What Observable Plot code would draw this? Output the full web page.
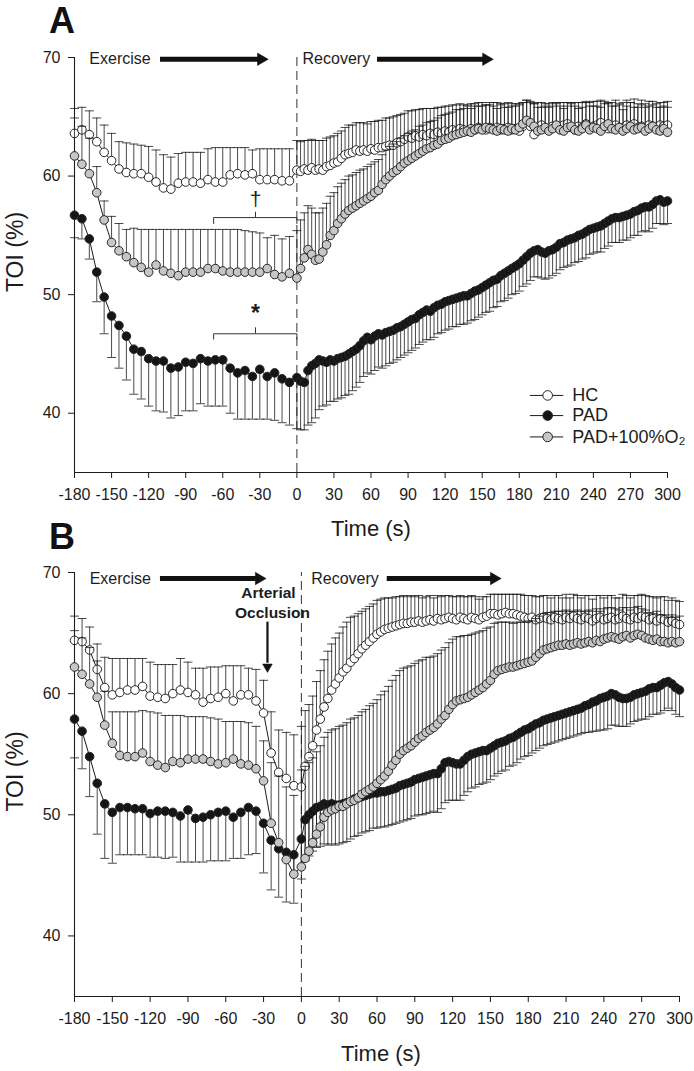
<!DOCTYPE html>
<html><head><meta charset="utf-8">
<script src="https://cdn.jsdelivr.net/npm/d3@7"></script>
<script src="https://cdn.jsdelivr.net/npm/@observablehq/plot@0.6"></script>
<style>
body{margin:0;background:#fff;}
#wrap{position:relative;width:694px;height:1071px;overflow:hidden;background:#fff;}
.panel{position:absolute;left:0;}
</style></head><body>
<div id="wrap"><div id="pa" class="panel" style="top:0px"></div><div id="pb" class="panel" style="top:515px"></div></div>
<script>
// ---------- sampling times ----------
const exTimes = d3.range(-180, 0, 6);     // exercise samples (every 6 s)
const recTimes = d3.range(0, 301, 3);     // recovery samples (every 3 s)
const xTicks = d3.range(-180, 301, 30);
const yTicks = [40, 50, 60, 70];
const seriesNames = ["HC", "PAD", "PAD+100%O₂"];

// ---------- Panel A : means and SD ----------
const A_HC_ex = [63.6,63.9,63.5,62.9,62.0,61.3,60.6,60.3,60.2,60.2,59.9,59.5,59.0,58.9,59.4,59.5,59.5,59.4,59.7,59.5,59.5,60.1,60.2,60.1,60.2,59.7,59.7,59.7,59.6,59.6];
const A_HC_ex_sd = [2.1,1.9,2.0,2.0,2.3,2.3,2.3,2.5,2.5,2.4,2.6,2.7,2.8,2.7,2.5,2.5,2.5,2.6,2.6,2.9,2.9,2.3,2.2,2.3,2.0,2.6,2.6,2.6,2.7,2.7];
const A_PAD_ex = [56.7,56.4,54.7,51.9,49.8,48.2,47.4,46.5,45.4,45.2,44.6,44.4,44.4,43.8,43.9,44.3,44.2,44.6,44.4,44.5,44.5,43.8,43.4,43.6,43.1,43.7,43.1,43.4,42.9,42.6];
const A_PAD_ex_sd = [1.9,1.7,1.7,2.5,3.1,3.5,3.6,3.7,3.8,4.0,4.0,4.2,4.3,4.2,4.1,4.1,4.0,3.8,3.8,3.9,3.9,3.8,3.9,4.1,3.6,4.2,3.6,4.0,3.7,3.6];
const A_O2_ex = [61.7,61.0,60.2,58.6,56.3,54.4,53.7,53.2,52.7,52.3,51.9,52.5,52.0,51.8,51.6,51.9,51.9,51.9,52.2,52.2,52.0,51.9,51.9,51.9,51.9,51.9,52.2,51.7,51.5,51.8];
const A_O2_ex_sd = [3.2,3.2,3.0,2.2,1.6,2.2,2.3,2.3,2.9,3.2,3.6,3.0,3.5,3.7,3.9,3.6,3.6,3.6,3.3,3.3,3.5,3.6,3.6,3.5,3.4,3.3,2.6,3.3,3.2,3.1];

const A_HC_rec = [
60.5,60.4,60.6,60.5,60.7,60.5,60.6,60.5,60.8,60.9,
61.1,61.2,61.5,61.8,61.9,62.0,62.2,62.1,62.2,62.1,
62.3,62.2,62.4,62.4,62.5,62.6,62.6,62.8,62.9,63.1,
63.3,63.2,63.4,63.3,63.5,63.4,63.6,63.5,63.7,63.6,
63.8,63.7,63.9,63.8,64.0,63.9,63.8,64.0,63.9,64.1,
64.0,63.9,64.1,64.0,64.1,63.9,64.0,64.1,63.9,64.0,
63.8,64.2,64.6,64.2,63.5,64.1,64.3,64.0,63.9,64.2,
64.1,64.0,64.3,64.4,64.1,63.9,64.2,64.1,64.4,64.0,
64.2,64.3,64.5,64.1,64.0,64.2,64.3,64.1,64.0,64.3,
64.2,64.4,64.1,64.2,64.0,64.3,64.2,64.1,64.3,64.2,
64.3];
const A_HC_rec_sd = [
2.5,2.5,2.4,2.5,2.4,2.5,2.4,2.5,2.4,2.4,
2.3,2.4,2.3,2.3,2.4,2.3,2.3,2.4,2.3,2.3,
2.3,2.4,2.3,2.3,2.4,2.3,2.4,2.3,2.3,2.2,
2.2,2.3,2.2,2.3,2.2,2.3,2.1,2.2,2.1,2.2,
2.1,2.2,2.1,2.2,2.1,2.1,2.2,2.1,2.2,2.1,
2.2,2.1,2.1,2.2,2.1,2.2,2.1,2.1,2.2,2.1,
2.3,2.0,1.8,2.0,2.6,2.1,1.9,2.1,2.2,2.0,
2.1,2.2,1.9,1.8,2.1,2.3,2.0,2.1,1.9,2.2,
2.1,2.0,1.9,2.2,2.1,2.0,2.1,2.0,2.2,2.1,
2.0,2.1,2.0,2.2,2.1,2.0,2.1,2.0,1.9,2.0,
2.0];
const A_O2_rec = [
51.4,52.2,53.1,53.8,53.4,52.9,53.0,53.6,54.2,55.0,
55.4,56.0,56.4,56.8,57.1,57.3,57.5,57.7,57.9,58.1,
58.3,58.6,58.8,59.3,59.7,60.0,60.3,60.5,60.8,61.1,
61.3,61.5,61.7,61.9,62.1,62.3,62.4,62.6,62.7,63.0,
63.1,63.2,63.4,63.5,63.6,63.7,63.8,63.7,63.9,64.0,
63.9,64.1,64.0,63.9,63.8,64.0,63.9,63.8,64.0,63.9,
64.1,64.4,64.7,64.5,64.2,63.8,63.9,64.1,63.8,64.0,
64.3,63.9,63.8,64.1,64.2,63.9,63.8,64.0,64.3,63.9,
64.1,64.0,63.8,64.2,64.4,64.0,63.9,64.1,63.8,64.0,
64.2,63.9,64.0,64.1,63.8,64.0,64.2,63.9,63.8,64.0,
63.7];
const A_O2_rec_sd = [
4.0,4.1,3.8,3.7,3.9,4.0,3.9,3.7,3.5,3.3,
3.2,3.1,3.0,2.9,2.9,2.8,2.8,2.8,2.7,2.7,
2.7,2.6,2.6,2.5,2.5,2.5,2.4,2.4,2.4,2.3,
2.3,2.3,2.2,2.3,2.2,2.2,2.2,2.1,2.2,2.1,
2.1,2.1,2.0,2.1,2.0,2.0,2.1,2.0,2.0,1.9,
2.0,1.9,2.0,2.0,1.9,2.0,1.9,2.0,1.9,2.0,
1.9,1.8,1.7,1.8,1.9,2.0,1.9,1.8,2.0,1.9,
1.8,2.0,1.9,1.8,1.9,2.0,1.9,1.8,1.9,2.0,
1.8,1.9,2.0,1.9,1.8,1.9,2.0,1.9,1.8,1.9,
2.0,1.9,1.8,1.9,2.0,1.9,1.8,1.9,2.0,1.9,
2.1];
const A_PAD_rec = [
43.0,42.7,42.6,43.6,44.0,44.2,44.5,44.4,44.3,44.5,
44.4,44.6,44.7,44.8,45.0,45.2,45.4,45.7,46.1,46.4,
46.2,46.5,46.7,46.6,46.8,46.9,47.0,47.2,47.3,47.5,
47.7,47.9,48.0,48.3,48.5,48.7,48.6,48.9,49.1,49.2,
49.4,49.5,49.6,49.7,49.8,49.9,49.9,50.1,50.3,50.4,
50.6,50.8,51.0,51.2,51.3,51.6,51.8,52.0,52.2,52.4,
52.6,52.9,53.2,53.5,53.7,53.8,53.6,53.5,53.7,53.8,
54.0,54.3,54.4,54.6,54.7,54.8,55.0,55.1,55.3,55.5,
55.6,55.7,55.8,56.0,56.2,56.4,56.5,56.5,56.6,56.7,
56.8,57.0,57.1,57.3,57.4,57.4,57.6,57.9,58.0,57.8,
57.9];
const A_PAD_rec_sd = [
4.3,4.1,4.0,4.6,4.8,4.6,4.2,3.8,3.6,3.5,
3.4,3.4,3.4,3.3,3.4,3.3,3.2,3.1,3.0,3.0,
2.9,2.9,2.8,2.8,2.8,2.7,2.7,2.7,2.6,2.6,
2.6,2.6,2.5,2.5,2.5,2.5,2.4,2.5,2.4,2.4,
2.4,2.4,2.3,2.4,2.3,2.4,2.3,2.3,2.4,2.3,
2.3,2.3,2.4,2.3,2.3,2.2,2.3,2.3,2.2,2.3,
2.3,2.2,2.3,2.3,2.2,2.3,2.2,2.2,2.3,2.2,
2.2,2.2,2.1,2.2,2.2,2.1,2.2,2.1,2.2,2.1,
2.1,2.1,2.2,2.1,2.1,2.0,2.1,2.1,2.0,2.1,
2.0,2.0,2.1,2.0,2.0,2.1,2.0,1.9,2.0,1.9,
1.9];

// ---------- Panel B : means and SD ----------
const B_HC_ex = [64.4,64.3,63.6,62.0,60.5,59.9,60.1,60.3,60.3,60.6,59.8,59.7,59.6,60.0,60.3,60.1,59.9,59.3,59.6,59.7,60.0,59.4,59.9,59.9,59.4,58.4,55.1,53.5,53.0,52.4];
const B_HC_ex_sd = [2.0,1.9,1.9,2.1,2.5,3.0,2.8,2.6,2.6,2.3,2.8,2.7,2.8,2.4,2.6,2.5,2.2,2.8,2.6,2.5,2.3,2.9,2.4,2.2,2.6,2.7,3.4,3.5,3.8,4.2];
const B_PAD_ex = [57.9,56.9,54.8,52.6,50.9,50.2,50.6,50.6,50.5,50.5,50.1,50.3,50.3,50.2,49.9,50.4,49.7,49.8,50.0,50.2,50.3,49.8,50.2,50.6,50.3,49.3,47.9,47.2,46.9,46.7];
const B_PAD_ex_sd = [3.2,3.1,3.3,4.2,4.5,4.2,3.9,3.9,3.8,3.8,3.6,3.8,3.9,3.7,3.8,4.3,3.6,3.7,3.8,4.0,4.1,3.4,3.8,3.9,3.5,4.1,4.1,4.0,4.1,4.0];
const B_O2_ex = [62.2,61.6,60.8,59.7,57.4,55.9,54.9,54.8,54.8,55.1,54.4,54.1,53.9,54.4,54.3,54.6,54.6,54.6,54.4,54.2,54.3,54.6,54.2,54.1,53.8,52.8,49.3,47.7,46.3,45.1];
const B_O2_ex_sd = [3.0,3.0,3.0,3.0,2.8,2.6,3.6,3.7,3.7,3.5,4.1,4.3,4.3,3.8,3.9,3.5,3.5,3.5,3.6,3.7,3.4,3.1,3.5,3.5,3.5,3.3,5.0,5.5,6.0,6.5];

const B_HC_rec = [
52.3,54.0,54.8,55.7,57.0,57.9,58.9,59.6,60.3,60.8,
61.3,61.8,62.1,62.6,62.9,63.3,63.7,64.0,64.3,64.6,
64.9,65.1,65.3,65.4,65.5,65.6,65.7,65.8,65.8,65.9,
65.9,66.0,65.9,66.0,66.1,66.0,66.2,66.1,66.2,66.3,
66.2,66.1,66.3,66.2,66.1,66.3,66.2,66.1,66.3,66.4,
66.6,66.6,66.5,66.6,66.7,66.6,66.6,66.5,66.4,66.3,
66.2,66.3,66.1,66.2,66.3,66.2,66.1,66.3,66.2,66.1,
66.3,66.2,66.4,66.2,66.1,66.3,66.2,66.0,66.2,66.3,
66.1,66.2,66.3,66.1,66.2,66.4,66.2,66.1,66.3,66.2,
66.4,66.3,66.1,66.2,66.0,66.2,66.1,65.9,66.0,65.8,
65.7];
const B_HC_rec_sd = [
5.0,4.6,4.3,4.1,4.0,4.0,3.9,3.9,3.8,3.8,
3.7,3.7,3.8,3.7,3.5,3.3,3.1,3.0,2.9,2.8,
2.8,2.7,2.6,2.5,2.4,2.4,2.3,2.3,2.2,2.2,
2.1,2.1,2.0,2.0,2.0,1.9,1.9,1.9,1.9,1.8,
1.8,1.9,1.8,1.8,1.9,1.8,1.8,1.7,1.7,1.6,
1.6,1.6,1.7,1.6,1.5,1.6,1.6,1.7,1.8,1.8,
1.9,1.8,1.9,1.8,1.8,1.9,1.8,1.8,1.9,1.8,
1.9,1.7,1.8,1.9,1.8,1.8,1.9,1.8,1.9,1.8,
1.8,1.9,1.8,1.8,1.7,1.8,1.9,1.8,1.8,1.9,
1.8,1.8,1.9,1.8,1.9,1.8,1.9,1.8,1.9,1.9,
1.9];
const B_O2_rec = [
45.7,46.4,47.0,47.7,48.4,49.0,49.8,50.2,50.4,50.5,
50.7,50.7,50.9,51.1,51.2,51.4,51.7,51.9,52.1,52.3,
52.6,52.9,53.2,53.6,54.1,54.5,55.0,55.3,55.5,55.7,
56.0,56.3,56.5,56.8,57.0,57.2,57.5,57.9,58.2,58.7,
59.1,59.4,59.5,59.6,59.7,59.9,60.1,60.3,60.5,60.8,
61.1,61.6,61.9,62.0,62.1,62.2,62.2,62.3,62.4,62.5,
62.6,62.7,63.0,63.3,63.6,63.7,63.8,63.9,64.0,64.0,
64.1,64.0,64.1,64.2,64.1,64.2,64.3,64.2,64.4,64.3,
64.5,64.6,64.7,64.6,64.5,64.7,64.8,64.6,64.8,64.9,
64.8,64.6,64.5,64.4,64.5,64.3,64.3,64.2,64.3,64.2,
64.3];
const B_O2_rec_sd = [
8.0,7.6,7.3,7.0,6.8,6.7,6.6,6.6,6.6,6.6,
6.6,6.7,6.7,6.8,6.8,6.8,6.8,6.8,6.9,6.9,
6.9,7.0,7.0,7.0,7.0,7.0,6.9,6.8,6.7,6.6,
6.5,6.4,6.3,6.2,6.0,5.9,5.8,5.7,5.6,5.5,
5.4,5.3,5.2,5.2,5.1,5.0,4.9,4.8,4.7,4.6,
4.4,4.2,4.0,3.9,3.8,3.7,3.6,3.6,3.5,3.4,
3.4,3.3,3.2,3.1,3.0,3.0,2.9,2.9,2.8,2.8,
2.8,2.8,2.7,2.7,2.7,2.6,2.6,2.6,2.6,2.5,
2.5,2.5,2.4,2.4,2.4,2.4,2.3,2.3,2.3,2.3,
2.2,2.3,2.2,2.2,2.3,2.2,2.2,2.1,2.2,2.1,
2.1];
const B_PAD_rec = [
48.0,49.6,50.0,50.3,50.6,50.7,50.9,50.8,50.9,50.8,
50.8,50.9,51.0,51.1,51.3,51.4,51.5,51.6,51.7,51.8,
51.8,51.9,51.9,52.0,52.1,52.2,52.4,52.5,52.6,52.7,
52.9,53.0,53.1,53.2,53.3,53.4,53.4,53.8,54.3,54.4,
54.3,54.2,54.2,54.5,54.8,55.0,55.1,55.2,55.3,55.3,
55.5,55.7,55.9,56.0,56.1,56.3,56.4,56.6,56.8,57.0,
57.1,57.3,57.5,57.6,57.8,57.9,58.0,58.1,58.2,58.3,
58.4,58.5,58.6,58.7,58.8,59.0,59.1,59.3,59.4,59.6,
59.7,59.8,60.0,59.9,59.7,59.6,59.6,59.7,59.9,60.0,
60.1,60.2,60.4,60.5,60.5,60.7,60.9,61.0,60.8,60.5,
60.3];
const B_PAD_rec_sd = [
3.3,3.4,3.4,3.3,3.3,3.3,3.3,3.3,3.3,3.3,
3.2,3.2,3.2,3.1,3.1,3.1,3.0,3.0,3.0,2.9,
2.9,2.9,2.9,2.9,2.9,2.9,3.0,3.0,3.0,3.0,
3.0,3.0,3.1,3.1,3.1,3.1,3.2,3.3,3.3,3.2,
3.1,3.0,3.0,2.9,2.9,2.8,2.8,2.7,2.7,2.6,
2.6,2.5,2.5,2.4,2.4,2.3,2.3,2.3,2.2,2.2,
2.2,2.2,2.2,2.1,2.1,2.1,2.1,2.1,2.1,2.1,
2.1,2.1,2.1,2.1,2.1,2.2,2.3,2.4,2.5,2.6,
2.7,2.7,2.6,2.5,2.4,2.3,2.3,2.2,2.2,2.2,
2.2,2.3,2.3,2.2,2.2,2.3,2.3,2.2,2.2,2.2,
2.2];

// ---------- annotations (data coordinates) ----------
const phaseLabelsA = [{t:-168, y:69.9, text:"Exercise"}, {t:4.6, y:69.9, text:"Recovery"}];
const phaseArrowsA = [{x1:-110.4, tip:-23.7, y:69.85}, {x1:65.3, tip:158.5, y:69.85}];
const phaseLabelsB = [{t:-168, y:69.5, text:"Exercise"}, {t:7.8, y:69.5, text:"Recovery"}];
const phaseArrowsB = [{x1:-111.8, tip:-28.5, y:69.5}, {x1:68.1, tip:158, y:69.5}];
const bracketDagger = {x1:-67.4, x2:0, y:56.5, drop:0.5, mid:-33.5, rise:0.45, markY:58.2, mark:"†"};
const bracketStar = {x1:-67.4, x2:0, y:46.7, drop:0.45, mid:-33.5, rise:0.5, markY:48.8, mark:"*"};
const occlusionText = [{t:-26.1, y:68.27, text:"Arterial"}, {t:-22.9, y:66.62, text:"Occlusion"}];
const occlusionArrow = {t:-26.9, y1:65.9, tip:61.76};
const legendRows = [{y:41.5, name:seriesNames[0]}, {y:39.8, name:seriesNames[1]}, {y:38.0, name:seriesNames[2]}];
const legendX = {x1:189, x2:216, dot:203, text:223};

// ---------- styling ----------
const FONT = '"Liberation Sans", Arial, Helvetica, sans-serif';
const INK = "#1c1c1c";
const fills = {HC:"#ffffff", PAD:"#151515", O2:"#c6c6c6"};
const capSymbol = {draw(ctx){ ctx.moveTo(-4.5, 0); ctx.lineTo(4.5, 0); }};

function build(exV, exSd, recV, recSd) {
  return exTimes.map((t, i) => ({t, v: exV[i], sd: exSd[i]}))
    .concat(recTimes.map((t, i) => ({t, v: recV[i], sd: recSd[i]})));
}

function seriesMarks(data, dir, fill) {
  const end = d => d.v + dir * d.sd;
  return [
    Plot.ruleX(data, {x:"t", y1:"v", y2:end, stroke:INK, strokeWidth:0.8}),
    Plot.dot(data, {x:"t", y:end, symbol:capSymbol, fill:"none", stroke:INK, strokeWidth:0.8}),
    Plot.line(data, {x:"t", y:"v", stroke:INK, strokeWidth:1}),
    Plot.dot(data, {x:"t", y:"v", r:4.3, fill, stroke:"#262626", strokeWidth:1})
  ];
}

function phaseMarks(labels, arrows) {
  return [
    Plot.text(labels, {x:"t", y:"y", text:"text", textAnchor:"start", lineAnchor:"middle", fontSize:16, fill:INK}),
    Plot.ruleY(arrows, {y:"y", x1:"x1", x2: d => d.tip - 7, stroke:"#111", strokeWidth:5}),
    Plot.dot(arrows, {x:"tip", y:"y", symbol:"triangle", rotate:90, r:4.6, dx:-6.5, fill:"#111", stroke:"#111", strokeWidth:0.5})
  ];
}

function bracketMarks(b, bold, size, dyMark) {
  const shape = [{x:b.x1, y:b.y - b.drop}, {x:b.x1, y:b.y}, {x:b.x2, y:b.y}, {x:b.x2, y:b.y - b.drop}];
  return [
    Plot.line(shape, {x:"x", y:"y", stroke:"#333", strokeWidth:1}),
    Plot.ruleX([b], {x:"mid", y1:"y", y2: d => d.y + d.rise, stroke:"#333", strokeWidth:1}),
    Plot.text([b], {x:"mid", y:"markY", text:"mark", fontSize:size, fontWeight: bold ? "bold" : "normal", lineAnchor:"middle", dy:dyMark, fill:INK})
  ];
}

function framing(yLabelDy) {
  return [
    Plot.ruleX([0], {y1:35, y2:70, stroke:"#333", strokeWidth:1, strokeDasharray:"9,5"}),
    Plot.ruleX([-180], {y1:35, y2:70, stroke:INK, strokeWidth:1.1}),
    Plot.ruleY([35], {x1:-180, x2:300, stroke:INK, strokeWidth:1.1}),
    Plot.axisX({ticks:xTicks, tickSize:6, tickPadding:10, tickFormat: d => String(d), label:null, fontSize:16}),
    Plot.axisY({ticks:yTicks, tickSize:6, tickPadding:8, tickFormat: d => String(d), label:null, fontSize:16}),
    Plot.text(["TOI (%)"], {frameAnchor:"left", text: d => d, rotate:-90, dx:-58.5, dy:yLabelDy, textAnchor:"middle", lineAnchor:"middle", fontSize:23, fill:INK}),
  ];
}

function makePlot({height, marginTop, marginBottom, marginRight, series, extra}) {
  return Plot.plot({
    width: 694, height, marginLeft: 74, marginRight, marginTop, marginBottom,
    x: {domain: [-180, 300]},
    y: {domain: [35, 70]},
    style: {fontFamily: FONT, fontSize: "16px", color: INK, background: "transparent", overflow: "visible"},
    marks: [
      ...framing(extra.yLabelDy),
      ...seriesMarks(series.HC, +1, fills.HC),
      ...seriesMarks(series.PAD, -1, fills.PAD),
      ...seriesMarks(series.O2, +1, fills.O2),
      ...extra.marks,
      Plot.text([extra.letter], {frameAnchor:"top-left", text: d => d, dx:-12.5, dy:extra.letterDy, textAnchor:"middle", lineAnchor:"middle", fontSize:36, fontWeight:"bold", fill:"#111"}),
      Plot.text(["Time (s)"], {frameAnchor:"bottom", text: d => d, dy:extra.timeDy, dx:extra.timeDx, textAnchor:"middle", lineAnchor:"middle", fontSize:22, fill:INK})
    ]
  });
}

// ---------- Panel A ----------
const seriesA = {
  HC: build(A_HC_ex, A_HC_ex_sd, A_HC_rec, A_HC_rec_sd),
  PAD: build(A_PAD_ex, A_PAD_ex_sd, A_PAD_rec, A_PAD_rec_sd),
  O2: build(A_O2_ex, A_O2_ex_sd, A_O2_rec, A_O2_rec_sd)
};
const legendMarks = [
  Plot.ruleY(legendRows, {y:"y", x1: () => legendX.x1, x2: () => legendX.x2, stroke:INK, strokeWidth:1}),
  Plot.dot(legendRows, {x: () => legendX.dot, y:"y", r:4.8, stroke:"#262626", strokeWidth:1, fill: (d, i) => [fills.HC, fills.PAD, fills.O2][i]}),
  Plot.text(legendRows, {x: () => legendX.text, y:"y", text:"name", textAnchor:"start", lineAnchor:"middle", fontSize:18, fill:INK})
];
const plotA = makePlot({
  height: 545, marginTop: 57, marginBottom: 73, marginRight: 27, series: seriesA,
  extra: {
    letter: "A", letterDy: -36, timeDy: 56, timeDx: 0, yLabelDy: -13,
    marks: [
      ...phaseMarks(phaseLabelsA, phaseArrowsA),
      ...bracketMarks(bracketDagger, false, 21, 2),
      ...bracketMarks(bracketStar, true, 23, 5),
      ...legendMarks
    ]
  }
});
document.getElementById("pa").appendChild(plotA);

// ---------- Panel B ----------
const seriesB = {
  HC: build(B_HC_ex, B_HC_ex_sd, B_HC_rec, B_HC_rec_sd),
  PAD: build(B_PAD_ex, B_PAD_ex_sd, B_PAD_rec, B_PAD_rec_sd),
  O2: build(B_O2_ex, B_O2_ex_sd, B_O2_rec, B_O2_rec_sd)
};
const plotB = makePlot({
  height: 556, marginTop: 57, marginBottom: 75, marginRight: 15, series: seriesB,
  extra: {
    letter: "B", letterDy: -35, timeDy: 57, timeDx: 4, yLabelDy: -13,
    marks: [
      ...phaseMarks(phaseLabelsB, phaseArrowsB),
      Plot.text(occlusionText, {x:"t", y:"y", text:"text", fontWeight:"bold", fontSize:15.5, lineAnchor:"middle", fill:INK}),
      Plot.ruleX([occlusionArrow], {x:"t", y1:"y1", y2: d => d.tip + 0.75, stroke:"#111", strokeWidth:2.2}),
      Plot.dot([occlusionArrow], {x:"t", y:"tip", symbol:"triangle", rotate:180, r:3.6, dy:-5.5, fill:"#111", stroke:"#111", strokeWidth:0.5})
    ]
  }
});
document.getElementById("pb").appendChild(plotB);
</script>
</body></html>
